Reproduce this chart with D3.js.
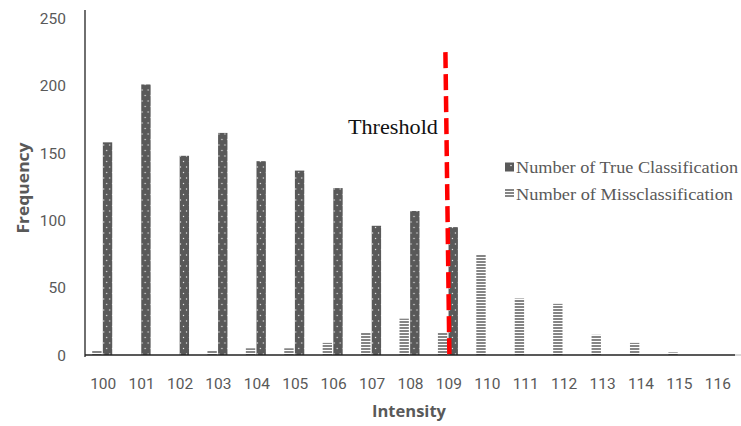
<!DOCTYPE html>
<html>
<head>
<meta charset="utf-8">
<script src="https://cdn.jsdelivr.net/npm/d3@7"></script>
<style>
  body { margin: 0; background: #fff; }
  svg { display: block; }
</style>
</head>
<body>
<svg id="chart" width="741" height="426"></svg>
<script>
// data
const intensity = ['100','101','102','103','104','105','106','107','108','109','110','111','112','113','114','115','116'];
const trueCount = [158, 201, 148, 165, 144, 137, 124, 96, 107, 95, 0, 0, 0, 0, 0, 0, 0];
const missCount = [3, 0, 0, 3, 5, 5, 9, 17, 27, 17, 75, 42, 38, 15, 9, 2, 0];
const yTicks = [0, 50, 100, 150, 200, 250];
const seriesNames = ['Number of True Classification', 'Number of Missclassification'];
const thresholdAt = '109';
const thresholdTop = 225;

const svg = d3.select('#chart');
const grey = '#595959';
const serif = '"Liberation Serif", "Times New Roman", serif';

const x = d3.scaleBand().domain(intensity).range([83, 736]);
const y = d3.scaleLinear().domain([0, 250]).range([355, 18.5]);
// miss bar on the left, true bar on the right of each group
const sub = d3.scaleBand().domain(['miss', 'true']).range([-10, 10]).paddingInner(0.12);

// patterns
const defs = svg.append('defs');
const dots = defs.append('pattern')
  .attr('id', 'dots').attr('patternUnits', 'userSpaceOnUse')
  .attr('width', 6).attr('height', 11);
dots.append('rect').attr('width', 6).attr('height', 11).attr('fill', grey);
dots.append('circle').attr('cx', 1.5).attr('cy', 2).attr('r', 0.7).attr('fill', '#e8e8e8');
dots.append('circle').attr('cx', 4.5).attr('cy', 7.5).attr('r', 0.7).attr('fill', '#e8e8e8');

const stripes = defs.append('pattern')
  .attr('id', 'stripes').attr('patternUnits', 'userSpaceOnUse')
  .attr('width', 4).attr('height', 3);
stripes.append('rect').attr('width', 4).attr('height', 3).attr('fill', '#fff');
stripes.append('rect').attr('width', 4).attr('height', 2).attr('fill', '#858585');

// y tick labels
svg.append('g')
  .selectAll('text')
  .data(yTicks)
  .join('text')
  .attr('x', 66)
  .attr('y', d => y(d) + 5.5)
  .attr('text-anchor', 'end')
  .attr('font-family', 'Roboto, sans-serif')
  .attr('font-size', 15.5)
  .attr('fill', grey)
  .text(d => d);

// x tick labels
svg.append('g')
  .selectAll('text')
  .data(intensity)
  .join('text')
  .attr('x', d => x(d) + x.bandwidth() / 2 + 1)
  .attr('y', 389)
  .attr('text-anchor', 'middle')
  .attr('font-family', 'Roboto, sans-serif')
  .attr('font-size', 15.5)
  .attr('fill', grey)
  .text(d => d);

// bars
const groups = svg.append('g')
  .selectAll('g')
  .data(intensity)
  .join('g')
  .attr('transform', d => `translate(${x(d) + x.bandwidth() / 2},0)`);

groups.filter((d, i) => missCount[i] > 0)
  .append('rect')
  .attr('x', sub('miss'))
  .attr('width', sub.bandwidth())
  .attr('y', d => y(missCount[intensity.indexOf(d)]))
  .attr('height', d => y(0) - y(missCount[intensity.indexOf(d)]))
  .attr('fill', 'url(#stripes)');

groups.filter((d, i) => trueCount[i] > 0)
  .append('rect')
  .attr('x', sub('true'))
  .attr('width', sub.bandwidth())
  .attr('y', d => y(trueCount[intensity.indexOf(d)]))
  .attr('height', d => y(0) - y(trueCount[intensity.indexOf(d)]))
  .attr('fill', 'url(#dots)');

// axes lines
svg.append('line')
  .attr('x1', 85).attr('x2', 85)
  .attr('y1', 10).attr('y2', y(0) + 2)
  .attr('stroke', '#222').attr('stroke-width', 1.3);
svg.append('line')
  .attr('x1', 85).attr('x2', 735)
  .attr('y1', y(0)).attr('y2', y(0))
  .attr('stroke', '#222').attr('stroke-width', 1.5);
svg.append('line')
  .attr('x1', 735).attr('x2', 741)
  .attr('y1', y(0)).attr('y2', y(0))
  .attr('stroke', '#ccc').attr('stroke-width', 1.5);

// threshold line, slightly tilted as in the figure
const tx = x(thresholdAt) + x.bandwidth() / 2;
svg.append('line')
  .attr('x1', tx - 2.5).attr('x2', tx + 1.5)
  .attr('y1', y(thresholdTop)).attr('y2', y(0) + 3)
  .attr('stroke', '#ff0000')
  .attr('stroke-width', 4.5)
  .attr('stroke-dasharray', '16 6');

svg.append('text')
  .attr('x', tx - 100)
  .attr('y', 134)
  .attr('textLength', 90)
  .attr('lengthAdjust', 'spacingAndGlyphs')
  .attr('font-family', serif)
  .attr('font-size', 20)
  .attr('fill', '#111')
  .text('Threshold');

// legend
const legend = svg.append('g').attr('transform', 'translate(505,0)');
const legendY = [167, 194];
const legendLen = [222, 217];
legend.append('rect')
  .attr('x', 0).attr('y', legendY[0] - 4.5)
  .attr('width', 9).attr('height', 9)
  .attr('fill', grey);
legend.append('circle')
  .attr('cx', 6).attr('cy', legendY[0] - 1.5).attr('r', 0.8)
  .attr('fill', '#e8e8e8');
legend.append('rect')
  .attr('x', 0).attr('y', legendY[1] - 5)
  .attr('width', 9).attr('height', 9)
  .attr('fill', 'url(#stripes)');
legend.selectAll('text.leg')
  .data(seriesNames)
  .join('text')
  .attr('class', 'leg')
  .attr('x', 11)
  .attr('y', (d, i) => legendY[i] + 5.5)
  .attr('textLength', (d, i) => legendLen[i])
  .attr('lengthAdjust', 'spacingAndGlyphs')
  .attr('font-family', serif)
  .attr('font-size', 17)
  .attr('fill', grey)
  .text(d => d);

// axis titles
svg.append('text')
  .attr('x', 409)
  .attr('y', 417)
  .attr('text-anchor', 'middle')
  .attr('textLength', 74)
  .attr('lengthAdjust', 'spacingAndGlyphs')
  .attr('font-family', '"Open Sans", sans-serif')
  .attr('font-weight', 'bold')
  .attr('font-size', 16.5)
  .attr('fill', grey)
  .text('Intensity');

svg.append('text')
  .attr('transform', 'translate(29,188) rotate(-90)')
  .attr('text-anchor', 'middle')
  .attr('textLength', 91)
  .attr('lengthAdjust', 'spacingAndGlyphs')
  .attr('font-family', '"Open Sans", sans-serif')
  .attr('font-weight', 'bold')
  .attr('font-size', 16.5)
  .attr('fill', grey)
  .text('Frequency');
</script>
</body>
</html>
